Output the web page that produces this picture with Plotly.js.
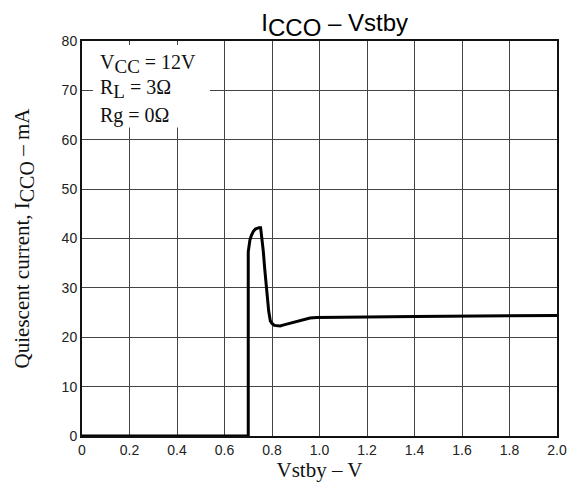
<!DOCTYPE html>
<html>
<head>
<meta charset="utf-8">
<script src="https://cdn.plot.ly/plotly-3.0.1.min.js"></script>
<style>html,body{margin:0;padding:0;background:#fff;}#chart{width:579px;height:486px;}</style>
</head>
<body>
<div id="chart"></div>
<script>
// Quiescent current ICCO (mA) vs Vstby (V)
const vstby = [0, 0.7, 0.7, 0.703, 0.707, 0.713, 0.721, 0.73, 0.738, 0.745, 0.752, 0.757, 0.763, 0.77, 0.778, 0.786, 0.793, 0.8, 0.81, 0.822, 0.834, 0.85, 0.88, 0.92, 0.96, 0.988, 1.0, 1.2, 1.4, 1.6, 1.8, 2.0];
const icco  = [0, 0, 37.3, 38.6, 39.7, 40.6, 41.4, 41.9, 42.1, 42.2, 42.2, 40.5, 37.6, 33.5, 29.0, 25.3, 23.3, 22.8, 22.4, 22.3, 22.3, 22.5, 22.9, 23.5, 23.9, 24.0, 24.0, 24.1, 24.2, 24.3, 24.4, 24.4];
const xTickVals = [0, 0.2, 0.4, 0.6, 0.8, 1.0, 1.2, 1.4, 1.6, 1.8, 2.0];
const xTickText = ["0", "0.2", "0.4", "0.6", "0.8", "1.0", "1.2", "1.4", "1.6", "1.8", "2.0"];
const yTickVals = [0, 10, 20, 30, 40, 50, 60, 70, 80];
const yTickText = ["0", "10", "20", "30", "40", "50", "60", "70", "80"];
const conditions = [
  'V<sub><span style="font-size:19px">CC</span></sub> = 12V',
  'R<sub><span style="font-size:19px">L</span></sub> = 3Ω',
  'Rg = 0Ω'
];

const serif = "Liberation Serif, Times New Roman, serif";
const sans = "Liberation Sans, Arial, sans-serif";

const trace = {
  x: vstby, y: icco, type: "scatter", mode: "lines",
  line: {color: "#000", width: 3, shape: "linear"},
  hoverinfo: "skip"
};

const condY = [75.4, 70.2, 65.0];
const annotations = conditions.map((t, i) => ({
  x: 0.068, y: condY[i], xref: "x", yref: "y", xanchor: "left", yanchor: "middle",
  text: t, showarrow: false, font: {family: serif, size: 20, color: "#111"}
}));

const layout = {
  width: 579, height: 486,
  margin: {l: 82, r: 22, t: 41, b: 50},
  paper_bgcolor: "#fff", plot_bgcolor: "#fff",
  showlegend: false,
  title: {
    text: 'I<sub><span style="font-size:24px">CCO</span></sub> – Vstby',
    font: {family: sans, size: 24, color: "#000"},
    x: 0.532, xref: "paper", xanchor: "center",
    y: 0.953, yref: "container", yanchor: "middle"
  },
  xaxis: {
    range: [0, 2.0], tickmode: "array", tickvals: xTickVals, ticktext: xTickText,
    showgrid: true, gridcolor: "#444", gridwidth: 1,
    showline: true, linecolor: "#111", linewidth: 2, mirror: true,
    ticks: "", zeroline: false,
    tickfont: {family: sans, size: 14, color: "#222"},
    title: {text: "Vstby – V", font: {family: serif, size: 21, color: "#111"}, standoff: 3}
  },
  yaxis: {
    range: [0, 80], tickmode: "array", tickvals: yTickVals, ticktext: yTickText,
    showgrid: true, gridcolor: "#444", gridwidth: 1,
    showline: true, linecolor: "#111", linewidth: 2, mirror: true,
    ticks: "", zeroline: false,
    tickfont: {family: sans, size: 14, color: "#222"},
    title: {text: 'Quiescent current, I<sub><span style="font-size:20px">CCO</span></sub> – mA', font: {family: serif, size: 21, color: "#111"}, standoff: 26}
  },
  shapes: [{
    type: "rect", xref: "x", yref: "y", x0: 0.046, x1: 0.539, y0: 62.5, y1: 79.2,
    fillcolor: "#fff", line: {width: 0}, layer: "above"
  }],
  annotations: annotations
};

Plotly.newPlot("chart", [trace], layout, {displayModeBar: false, staticPlot: true});
</script>
</body>
</html>
